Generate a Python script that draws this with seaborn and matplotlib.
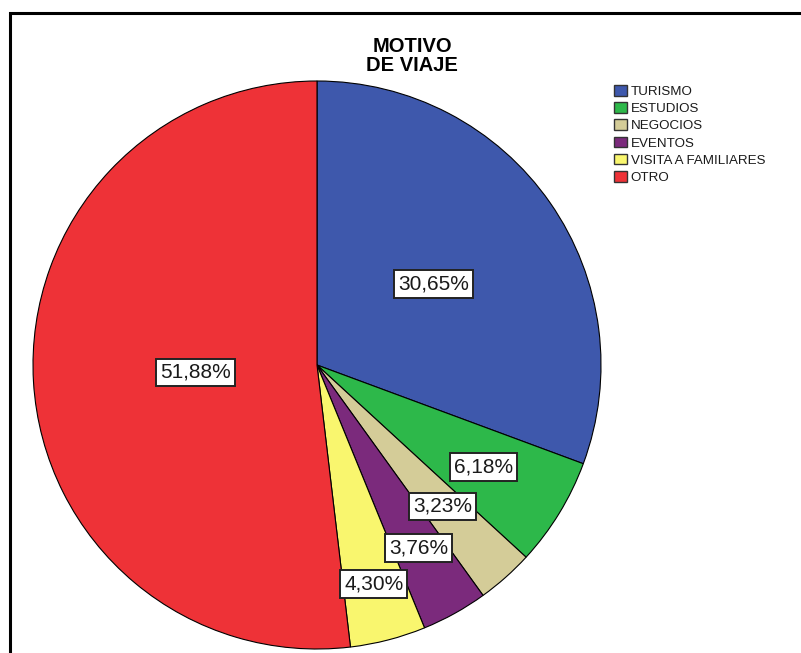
import numpy as np
import matplotlib
matplotlib.use("Agg")
import matplotlib.pyplot as plt
import seaborn as sns
from matplotlib.patches import Rectangle

sns.set_theme(style="white")
plt.rcParams['font.family'] = ['Liberation Sans', 'DejaVu Sans']

categories = ["TURISMO", "ESTUDIOS", "NEGOCIOS", "EVENTOS", "VISITA A FAMILIARES", "OTRO"]
values = [30.65, 6.18, 3.23, 3.76, 4.30, 51.88]
colors = ["#3E58AC", "#2DB84A", "#D4CC98", "#7B2A7C", "#F9F66E", "#EE3237"]
label_dist = [0.50, 0.687, 0.666, 0.737, 0.797, 0.43]

W, H = 801, 653
fig = plt.figure(figsize=(W / 100, H / 100), dpi=100)

# frame
fig.patches.append(Rectangle((10 / W, -0.1), 1.2, (H - 13) / H + 0.1, transform=fig.transFigure,
                             fill=False, edgecolor="black", linewidth=2.2, zorder=0))

ax = fig.add_axes([33 / W, (H - 649) / H, 568 / W, 568 / H])
wedges, _ = ax.pie(values, colors=colors, startangle=90, counterclock=False,
                   wedgeprops=dict(edgecolor="black", linewidth=0.8))
ax.set_xlim(-1.0, 1.0)
ax.set_ylim(-1.0, 1.0)
ax.axis("off")

for w, v, d in zip(wedges, values, label_dist):
    ang = np.deg2rad((w.theta1 + w.theta2) / 2)
    x, y = d * np.cos(ang), d * np.sin(ang)
    ax.text(x, y, f"{v:.2f}%".replace(".", ","), ha="center", va="center", fontsize=15,
            color="#1a1a1a",
            bbox=dict(boxstyle="square,pad=0.2", facecolor="white", edgecolor="#222222", linewidth=1.4))

fig.text(412 / W, 1 - 52.5 / H, "MOTIVO", ha="center", va="baseline", fontsize=14.5, fontweight="bold",
         color="black")
fig.text(412 / W, 1 - 71 / H, "DE VIAJE", ha="center", va="baseline", fontsize=14.5, fontweight="bold",
         color="black")

leg = fig.legend(wedges, categories, loc="upper left", bbox_to_anchor=(614 / W, 1 - 85 / H),
                 frameon=False, fontsize=9.6, handlelength=0.95, handleheight=0.85,
                 handletextpad=0.3, labelspacing=0.32, borderpad=0, borderaxespad=0)
for h in leg.legend_handles:
    h.set_edgecolor("#333333")
    h.set_linewidth(1.0)
for t in leg.get_texts():
    t.set_color("#1a1a1a")

fig.savefig("out.png", dpi=100)
